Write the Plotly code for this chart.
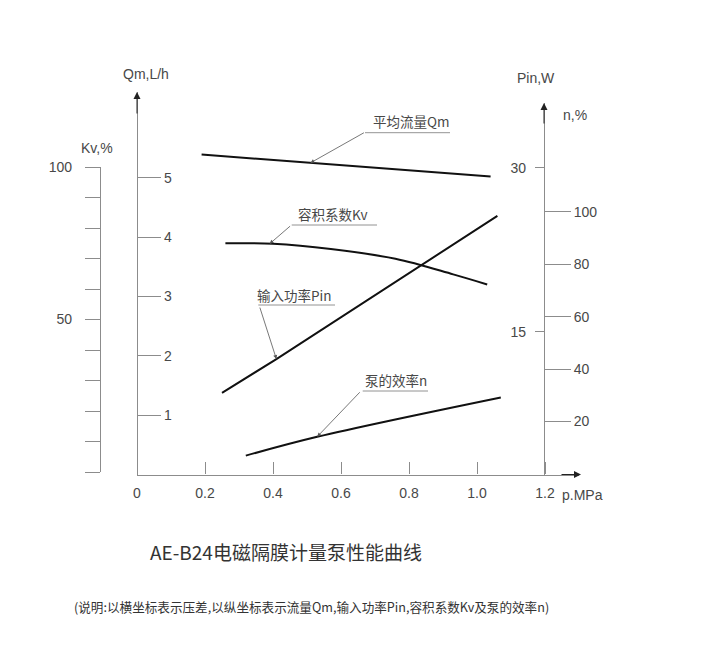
import plotly.graph_objects as go

W, H = 724, 664

# --- data ---
qm_p = [0.19, 0.51, 1.04]
qm_val = [5.39, 5.25, 5.02]

kv_p = [0.26, 0.40, 0.57, 0.76, 0.93, 1.03]
kv_val = [75.0, 74.8, 73.1, 69.9, 64.8, 61.5]

pin_p = [0.25, 0.41, 1.06]
pin_val = [9.4, 12.5, 25.6]

eff_p = [0.32, 0.53, 1.07]
eff_val = [7.0, 14.2, 29.2]

x_ticks = [0, 0.2, 0.4, 0.6, 0.8, 1.0, 1.2]
x_labels = ["0", "0.2", "0.4", "0.6", "0.8", "1.0", "1.2"]
qm_ticks = [1, 2, 3, 4, 5]
kv_ticks = list(range(0, 101, 10))
kv_labels = ["" if v not in (50, 100) else str(v) for v in kv_ticks]
pin_ticks = [15, 30]
eff_ticks = [20, 40, 60, 80, 100]

NUM_FONT = "Liberation Sans Narrow, Liberation Sans, sans-serif"
CJK_FONT = "Noto Sans CJK SC"
TXT = "#484848"
AX = "#8c8c8c"


def px(x):
    return x / W


def py(y):
    return 1 - y / H


fig = go.Figure()
line = dict(color="#111", width=2)
fig.add_trace(go.Scatter(x=qm_p, y=qm_val, mode="lines", line=line, xaxis="x", yaxis="y"))
fig.add_trace(go.Scatter(x=kv_p, y=kv_val, mode="lines", line=dict(line, shape="spline", smoothing=1), xaxis="x", yaxis="y2"))
fig.add_trace(go.Scatter(x=pin_p, y=pin_val, mode="lines", line=line, xaxis="x", yaxis="y3"))
fig.add_trace(go.Scatter(x=eff_p, y=eff_val, mode="lines", line=dict(line, shape="spline"), xaxis="x", yaxis="y4"))

tick_font = dict(family=NUM_FONT, size=14, color=TXT)
common = dict(showgrid=False, zeroline=False, fixedrange=True, automargin=False, tickfont=tick_font)

fig.update_layout(
    template="none",
    width=W, height=H, autosize=False,
    margin=dict(l=0, r=0, t=0, b=0, pad=0),
    paper_bgcolor="white", plot_bgcolor="rgba(0,0,0,0)",
    showlegend=False,
    xaxis=dict(common, domain=[px(137), px(579)], range=[0, 1.3], anchor="y",
               showline=True, linecolor=AX, linewidth=1.2,
               tickvals=x_ticks, ticktext=x_labels, ticks="inside", ticklen=12,
               tickcolor=AX, ticklabelstandoff=6),
    yaxis=dict(common, domain=[py(474.5), py(92)], range=[0, (474.5 - 92) / 59.35],
               anchor="free", position=px(137), side="right",
               showline=True, linecolor=AX, linewidth=1.2,
               tickvals=qm_ticks, ticks="outside", ticklen=23, tickcolor=AX),
    yaxis2=dict(common, domain=[py(472), py(167)], range=[0, 100],
                anchor="free", position=px(100), side="left",
                showline=True, linecolor=AX, linewidth=1.2,
                tickvals=kv_ticks, ticktext=kv_labels, ticks="outside", ticklen=15,
                tickcolor=AX, ticklabelstandoff=10),
    yaxis3=dict(common, domain=[py(474.5), py(103)],
                range=[(495.7 - 474.5) / 10.93, (495.7 - 103) / 10.93],
                anchor="free", position=px(544), side="left",
                showline=True, linecolor=AX, linewidth=1.2,
                tickvals=pin_ticks, ticks="outside", ticklen=9, tickcolor=AX,
                ticklabelstandoff=6),
    yaxis4=dict(common, domain=[py(474.5), py(103)],
                range=[(474 - 474.5) / 2.623, (474 - 103) / 2.623],
                anchor="free", position=px(544), side="right",
                showline=False,
                tickvals=eff_ticks, ticks="outside", ticklen=26, tickcolor=AX),
)

ann = []
# axis arrowheads (tail px, head px)
for (x0, y0, x1, y1) in [(137, 115, 137, 92), (544, 125, 544, 103), (560, 474.5, 581, 474.5)]:
    ann.append(dict(x=px(x1), y=py(y1), ax=x0 - x1, ay=y0 - y1, xref="paper", yref="paper",
                    axref="pixel", ayref="pixel", text="", showarrow=True,
                    arrowhead=2, arrowsize=1.4, arrowwidth=1, arrowcolor="#222", standoff=0))


def label(txt, x, y, size, family, color=TXT, xanchor="center"):
    ann.append(dict(x=px(x), y=py(y), xref="paper", yref="paper", text=txt, showarrow=False,
                    xanchor=xanchor, yanchor="middle",
                    font=dict(family=family, size=size, color=color)))


# axis titles
for txt, x, y in [("Qm,L/h", 146, 74), ("Kv,%", 97, 148), ("Pin,W", 536, 78),
                  ("n,%", 575, 115)]:
    label(txt, x, y, 14, NUM_FONT)
label("p.MPa", 560, 495, 14, NUM_FONT, xanchor="left")

# curve labels with leader lines: (label, axis, x, y on curve, dx, dy, text centre px)
leaders = [
    ("平均流量Qm", "y", 0.51, 5.25, 55, -31, 411, 121),
    ("容积系数Kv", "y2", 0.39, 74.8, 22, -19, 332, 214),
    ("输入功率Pin", "y3", 0.41, 12.5, -17, -53, 294, 295),
    ("泵的效率n", "y4", 0.53, 14.2, 44, -46, 396, 380),
]
shapes = []
for txt, yax, xv, yv, dx, dy, tx, ty in leaders:
    ann.append(dict(x=xv, y=yv, xref="x", yref=yax, ax=dx, ay=dy, axref="pixel", ayref="pixel",
                    text="", showarrow=True,
                    arrowhead=2, arrowsize=1, arrowwidth=0.8, arrowcolor="#555", standoff=0))
    label(txt, tx, ty, 13.5, CJK_FONT)
# underlines, elbow positions in px
for x0, x1, y in [(365, 450, 132.7), (291.7, 377, 225), (258.3, 335, 305), (362.7, 428, 391)]:
    shapes.append(dict(type="line", xref="paper", yref="paper", x0=px(x0), x1=px(x1),
                       y0=py(y), y1=py(y), line=dict(color="#777", width=0.8)))

label("AE-B24电磁隔膜计量泵性能曲线", 286, 551, 19, CJK_FONT, color="#333")
label("(说明:以横坐标表示压差,以纵坐标表示流量Qm,输入功率Pin,容积系数Kv及泵的效率n)",
      311, 606, 12.6, CJK_FONT, color="#333")

fig.update_layout(annotations=ann, shapes=shapes)
fig.write_html("out.html", config={"displayModeBar": False},
               post_script="document.body.style.margin='0';")
